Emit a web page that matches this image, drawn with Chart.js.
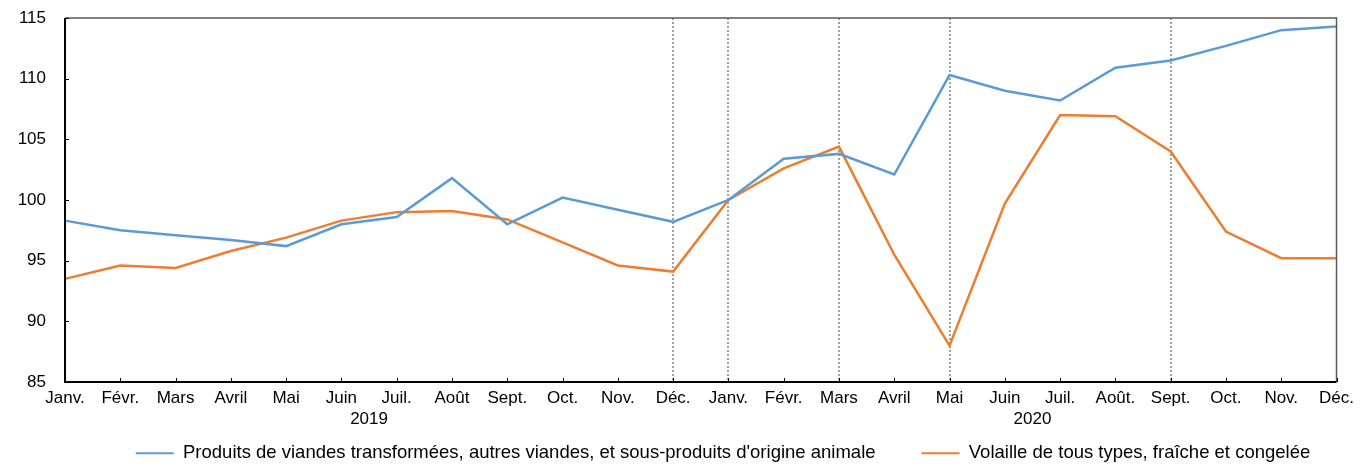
<!DOCTYPE html>
<html>
<head>
<meta charset="utf-8">
<script src="https://cdn.jsdelivr.net/npm/chart.js@4.4.0/dist/chart.umd.min.js"></script>
<style>
  html, body { margin: 0; padding: 0; background: #fff; }
  #wrap { width: 1360px; height: 468px; }
</style>
</head>
<body>
<div id="wrap"><canvas id="chart"></canvas></div>
<script>
// mois (2019 puis 2020)
const mois = ["Janv.", "Févr.", "Mars", "Avril", "Mai", "Juin", "Juil.", "Août", "Sept.", "Oct.", "Nov.", "Déc.",
              "Janv.", "Févr.", "Mars", "Avril", "Mai", "Juin", "Juil.", "Août.", "Sept.", "Oct.", "Nov.", "Déc."];
const annees = ["2019", "2020"];

const viandes = [98.3, 97.5, 97.1, 96.7, 96.2, 98.0, 98.6, 101.8, 98.0, 100.2, 99.2, 98.2,
                 100.0, 103.4, 103.8, 102.1, 110.3, 109.0, 108.2, 110.9, 111.5, 112.7, 114.0, 114.3];
const volaille = [93.5, 94.6, 94.4, 95.8, 96.9, 98.3, 99.0, 99.1, 98.4, 96.5, 94.6, 94.1,
                  100.0, 102.6, 104.4, 95.5, 88.0, 99.7, 107.0, 106.9, 104.0, 97.4, 95.2, 95.2];

// index des mois marqués par une ligne pointillée
const reperes = [11, 12, 14, 16, 20];
const yTicks = [85, 90, 95, 100, 105, 110, 115];

const POLICE = "'Liberation Sans', Arial, sans-serif";

// lignes pointillées verticales
const pointilles = {
  id: "pointilles",
  beforeDatasetsDraw(chart) {
    const { ctx, chartArea, scales } = chart;
    ctx.save();
    ctx.strokeStyle = "#a0a0a0";
    ctx.lineWidth = 2;
    ctx.setLineDash([2, 2]);
    reperes.forEach(i => {
      const x = Math.round(scales.x.getPixelForValue(i));
      ctx.beginPath();
      ctx.moveTo(x, chartArea.top);
      ctx.lineTo(x, chartArea.bottom);
      ctx.stroke();
    });
    ctx.restore();
  }
};

// cadre, petites graduations et années
const cadre = {
  id: "cadre",
  afterLayout(chart) {
    // légende décalée comme dans l'original (la boîte s'agrandit vers le haut)
    const lg = chart.legend;
    lg.left += 51;
    lg.right += 51;
    lg.top -= 32;
  },
  afterDraw(chart) {
    const { ctx, chartArea, scales } = chart;
    const { left, right, top, bottom } = chartArea;
    ctx.save();
    ctx.strokeStyle = "#595959";
    ctx.lineWidth = 1.5;
    ctx.beginPath();
    ctx.moveTo(left, top);
    ctx.lineTo(right, top);
    ctx.lineTo(right, bottom);
    ctx.stroke();
    ctx.strokeStyle = "#000";
    ctx.lineWidth = 2;
    ctx.beginPath();
    ctx.moveTo(left, top);
    ctx.lineTo(left, bottom);
    ctx.lineTo(right, bottom);
    ctx.stroke();
    ctx.lineWidth = 1;
    yTicks.forEach(v => {
      const y = Math.round(scales.y.getPixelForValue(v)) + 0.5;
      ctx.beginPath();
      ctx.moveTo(left, y);
      ctx.lineTo(left + 4, y);
      ctx.stroke();
    });
    mois.forEach((m, i) => {
      const x = Math.round(scales.x.getPixelForValue(i)) + 0.5;
      ctx.beginPath();
      ctx.moveTo(x, bottom);
      ctx.lineTo(x, bottom - 4);
      ctx.stroke();
    });
    ctx.fillStyle = "#000";
    ctx.font = "17px " + POLICE;
    ctx.textAlign = "center";
    ctx.textBaseline = "middle";
    annees.forEach((a, k) => {
      const x = (scales.x.getPixelForValue(k * 12) + scales.x.getPixelForValue(k * 12 + 11)) / 2;
      ctx.fillText(a, x, bottom + 37);
    });
    ctx.restore();
  }
};

new Chart(document.getElementById("chart"), {
  type: "line",
  data: {
    labels: mois,
    datasets: [
      {
        label: "Produits de viandes transformées, autres viandes, et sous-produits d'origine animale",
        data: viandes,
        borderColor: "#5b9bd5",
        backgroundColor: "#5b9bd5",
        borderWidth: 2.5,
        pointRadius: 0,
        tension: 0
      },
      {
        label: "Volaille de tous types, fraîche et congelée",
        data: volaille,
        borderColor: "#ed7d31",
        backgroundColor: "#ed7d31",
        borderWidth: 2.5,
        pointRadius: 0,
        tension: 0
      }
    ]
  },
  options: {
    responsive: true,
    maintainAspectRatio: false,
    animation: false,
    layout: { padding: { left: 5, right: 21, top: 18, bottom: 0 } },
    plugins: {
      tooltip: { enabled: false },
      legend: {
        position: "bottom",
        maxHeight: 38,
        labels: {
          color: "#000",
          font: { family: POLICE, size: 18.5 },
          boxWidth: 38,
          boxHeight: 2,
          padding: 46,
          generateLabels(chart) {
            return Chart.defaults.plugins.legend.labels.generateLabels(chart).map(l => {
              l.lineWidth = 0;
              l.fillStyle = chart.data.datasets[l.datasetIndex].borderColor;
              return l;
            });
          }
        }
      }
    },
    scales: {
      x: {
        type: "category",
        offset: false,
        grid: { display: false, drawTicks: false },
        border: { display: false },
        afterFit(scale) { scale.height = 48; },
        ticks: {
          color: "#000",
          font: { family: POLICE, size: 17 },
          maxRotation: 0,
          autoSkip: false,
          padding: 6
        }
      },
      y: {
        min: 85,
        max: 115,
        grid: { display: false, drawTicks: false },
        border: { display: false },
        afterFit(scale) {
          scale.width = 60;
          scale.paddingTop = 0;
          scale.paddingBottom = 0;
        },
        afterBuildTicks(scale) { scale.ticks = yTicks.map(v => ({ value: v })); },
        ticks: {
          color: "#000",
          font: { family: POLICE, size: 17 },
          padding: 19
        }
      }
    }
  },
  plugins: [pointilles, cadre]
});
</script>
</body>
</html>
